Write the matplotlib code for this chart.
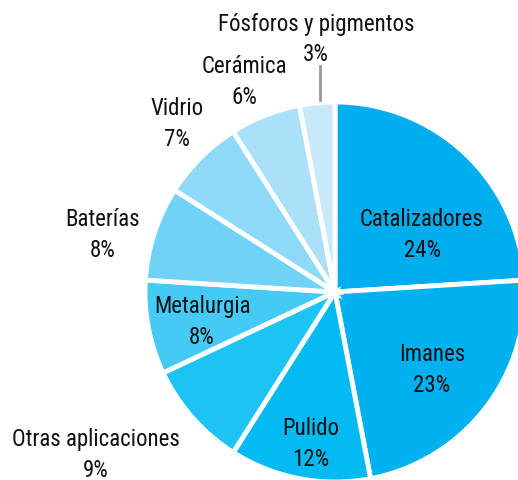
import matplotlib
matplotlib.use("Agg")
import matplotlib.pyplot as plt
from matplotlib import font_manager

categories = ["Catalizadores", "Imanes", "Pulido", "Otras aplicaciones", "Metalurgia",
              "Baterías", "Vidrio", "Cerámica", "Fósforos y pigmentos"]
values = [24, 23, 12, 9, 8, 8, 7, 6, 3]
colors = ["#00aeef", "#00b1f0", "#03baf2", "#1cc3f3", "#45caf5",
          "#6fd2f6", "#8ed9f7", "#abe0f9", "#c8e9f9"]

# label positions in pixel coordinates (x from left, y from top), centre of the two lines
label_pos = [(422, 233), (432, 368), (311, 442), (96, 453), (202, 320),
             (103, 233), (177, 122), (244, 80), (316, 37)]
line_gap = 31  # pixels between the two lines of a label

W, H = 518, 481
cx, cy = 335, 293
R = 190

fams = {f.name for f in font_manager.fontManager.ttflist}
family = "Liberation Sans"
for cand in ["Liberation Sans Narrow", "Arial Narrow", "Arimo Narrow", "Roboto Condensed",
             "PT Sans Narrow", "Archivo Narrow", "Pragati Narrow"]:
    if cand in fams:
        family = cand
        break

fig = plt.figure(figsize=(W / 100, H / 100), dpi=100)
ax = fig.add_axes([0, 0, 1, 1])

ax.pie(values, colors=colors, startangle=90, counterclock=False, radius=R,
       wedgeprops=dict(edgecolor="white", linewidth=3.5), frame=True)
ax.set_xlim(-cx, W - cx)
ax.set_ylim(-(H - cy), cy)
ax.axis("off")

for cat, v, (px, py) in zip(categories, values, label_pos):
    ax.text(px - cx, cy - (py - line_gap / 2), cat, ha="center", va="center_baseline",
            fontsize=16.5, family=family, color="#111111")
    ax.text(px - cx, cy - (py + line_gap / 2), f"{v}%", ha="center", va="center_baseline",
            fontsize=16.5, family=family, color="#111111")

# leader line for the small slice
ax.plot([320 - cx, 320 - cx], [cy - 67, cy - 101], color="#999999", lw=2)

fig.savefig("out.png", dpi=100)
